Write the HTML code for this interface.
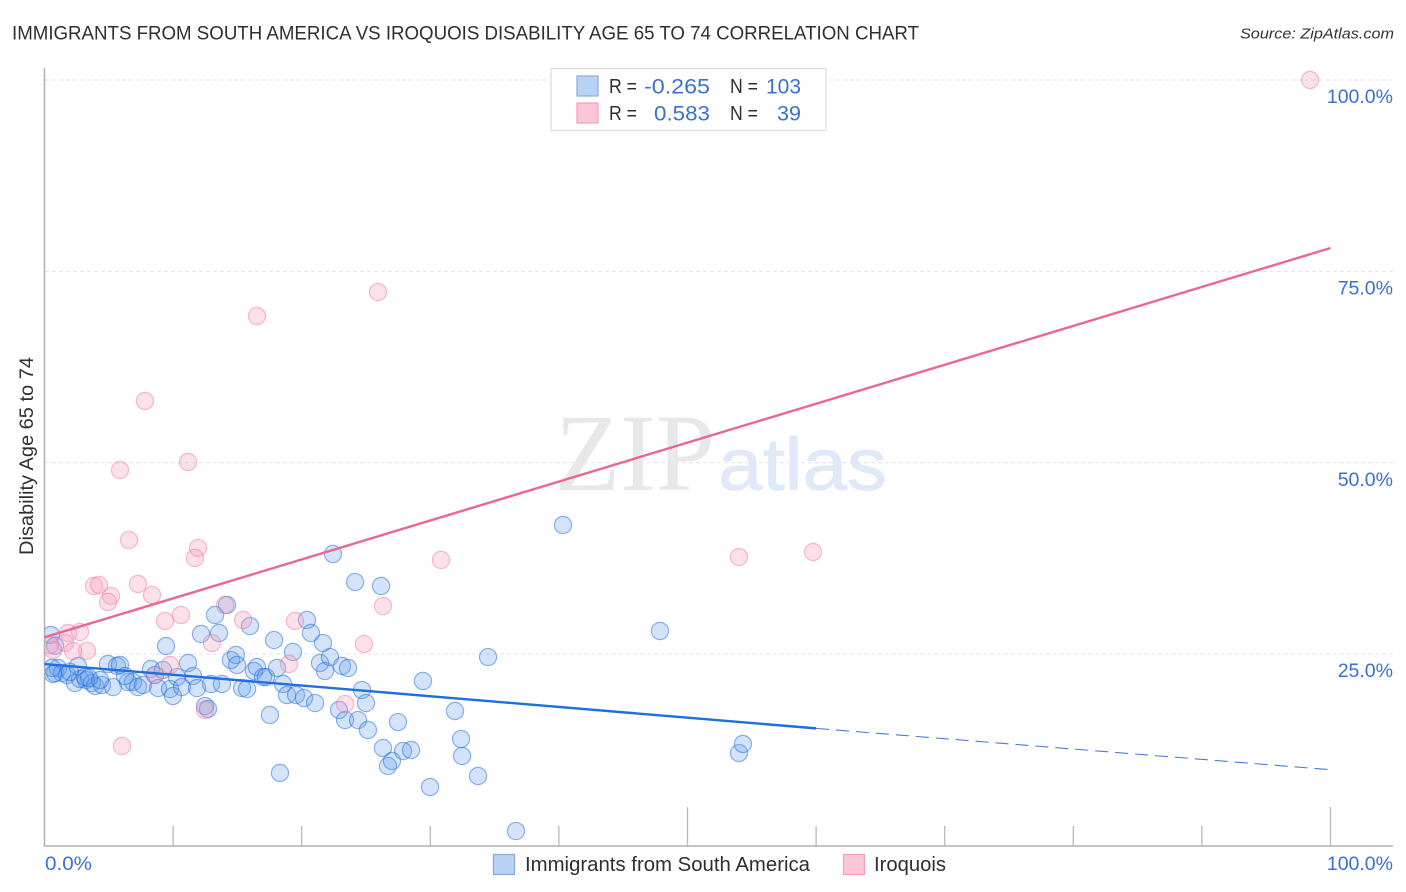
<!DOCTYPE html>
<html lang="en">
<head>
<meta charset="utf-8">
<title>Immigrants from South America vs Iroquois Disability Age 65 to 74 Correlation Chart</title>
<style>
html,body{margin:0;padding:0;background:#fff;}
svg{display:block;font-family:"Liberation Sans",sans-serif;}
</style>
</head>
<body>
<svg id="chart" xmlns="http://www.w3.org/2000/svg" width="1406" height="892" viewBox="0 0 1406 892">
  <rect x="0" y="0" width="1406" height="892" fill="#ffffff"/>
  <text x="12" y="39.5" font-size="19" fill="#2f2f2f" textLength="907" lengthAdjust="spacingAndGlyphs">IMMIGRANTS FROM SOUTH AMERICA VS IROQUOIS DISABILITY AGE 65 TO 74 CORRELATION CHART</text>
  <text x="1394" y="38.5" font-size="15" font-style="italic" fill="#333333" text-anchor="end" textLength="154" lengthAdjust="spacingAndGlyphs">Source: ZipAtlas.com</text>
  <g id="grid"></g>
  <g>
    <text x="555" y="490" font-family="'Liberation Serif',serif" font-size="110" fill="#e8e8e8" textLength="160" lengthAdjust="spacingAndGlyphs">ZIP</text>
    <text x="718" y="490" font-size="74" fill="#dfe9f8" stroke="#dfe9f8" stroke-width="0.8" textLength="169" lengthAdjust="spacingAndGlyphs">atlas</text>
  </g>
  <g id="axes"></g>
  <defs><clipPath id="plot-clip"><rect x="45" y="60" width="1350" height="786"/></clipPath></defs>
  <g id="blue-points" clip-path="url(#plot-clip)"></g>
  <g id="pink-points" clip-path="url(#plot-clip)"></g>
  <g id="trends"></g>
  <g id="tick-labels"></g>
  <text transform="translate(33,456) rotate(-90)" font-size="19" fill="#2f2f2f" text-anchor="middle" textLength="198" lengthAdjust="spacingAndGlyphs">Disability Age 65 to 74</text>

  <g>
    <rect x="551" y="68.5" width="275" height="62" fill="#ffffff" stroke="#e2e2e2" stroke-width="1.5"/>
    <rect x="577" y="76" width="21" height="20" fill="#b9d3f6" stroke="#8ba9dc" stroke-width="1.2"/>
    <rect x="577" y="103" width="21" height="20" fill="#fcc5d8" stroke="#f2a0ba" stroke-width="1.2"/>
    <g font-size="20" fill="#2f2f2f">
      <text x="609" y="93" textLength="28" lengthAdjust="spacingAndGlyphs">R =</text>
      <text x="609" y="120" textLength="28" lengthAdjust="spacingAndGlyphs">R =</text>
      <text x="730" y="93" textLength="28" lengthAdjust="spacingAndGlyphs">N =</text>
      <text x="730" y="120" textLength="28" lengthAdjust="spacingAndGlyphs">N =</text>
    </g>
    <g font-size="21.5" fill="#3a70d2">
      <text x="644" y="93.5" textLength="66" lengthAdjust="spacingAndGlyphs">-0.265</text>
      <text x="654" y="120.5" textLength="56" lengthAdjust="spacingAndGlyphs">0.583</text>
      <text x="766" y="93.5" textLength="35" lengthAdjust="spacingAndGlyphs">103</text>
      <text x="777" y="120.5" textLength="24" lengthAdjust="spacingAndGlyphs">39</text>
    </g>
  </g>

  <g>
    <rect x="493.5" y="854.5" width="21" height="20" fill="#b9d3f6" stroke="#8ba9dc" stroke-width="1.2"/>
    <text x="525" y="871" font-size="20" fill="#2f2f2f" textLength="285" lengthAdjust="spacingAndGlyphs">Immigrants from South America</text>
    <rect x="843.5" y="854.5" width="21" height="20" fill="#fcc5d8" stroke="#f2a0ba" stroke-width="1.2"/>
    <text x="874" y="871" font-size="20" fill="#2f2f2f" textLength="72" lengthAdjust="spacingAndGlyphs">Iroquois</text>
  </g>
</svg>
<script>
const yTickValues = [25, 50, 75, 100];
const yTickLabels = ["25.0%", "50.0%", "75.0%", "100.0%"];
const xTickValues = [10, 20, 30, 40, 50, 60, 70, 80, 90, 100];
const xMajorTicks = [50, 100];
const xEndLabels = ["0.0%", "100.0%"];
const blueX = [0.50,0.82,1.05,1.36,1.75,2.37,2.60,2.76,3.23,3.69,3.93,4.47,4.94,5.33,5.64,5.87,6.49,6.88,7.27,7.66,8.28,8.59,8.83,9.21,9.45,9.76,9.99,10.30,10.69,11.16,11.55,11.86,12.17,12.48,12.71,12.95,13.26,13.57,13.80,14.19,14.50,14.89,14.97,15.36,15.75,15.98,16.29,16.52,16.99,17.22,17.53,17.85,18.08,18.31,18.55,18.86,19.32,19.56,20.18,20.41,20.72,21.04,21.42,21.66,21.81,22.20,22.43,22.90,23.13,23.37,23.60,24.15,24.38,24.69,25.00,25.15,26.17,26.32,26.71,27.02,27.49,27.88,28.50,29.43,29.98,31.92,32.39,32.47,33.71,34.49,36.66,40.32,47.86,54.00,54.31,0.82,0.58,0.66,1.98,3.15,3.46,4.32,6.26];
const blueY = [27.50,22.53,23.19,22.53,22.27,21.23,23.45,21.75,21.62,21.23,20.84,20.97,23.71,20.70,23.45,23.58,21.36,21.36,20.70,20.97,23.06,22.27,20.57,22.93,26.06,20.44,19.53,22.01,20.70,23.84,22.14,20.57,27.63,18.22,17.83,21.10,30.11,27.76,21.10,31.42,24.23,24.89,23.58,20.57,20.44,28.67,22.80,23.32,22.01,22.01,17.05,26.84,23.19,9.47,21.10,19.66,25.28,19.66,19.27,29.46,27.76,18.61,23.84,26.45,22.80,24.62,38.08,17.70,23.45,16.39,23.19,34.42,16.39,20.31,18.61,15.09,33.90,12.74,10.39,11.04,16.13,12.34,12.48,21.49,7.64,17.57,13.91,11.69,9.08,24.62,1.89,41.87,28.02,12.08,13.26,26.10,23.19,22.40,22.67,22.01,21.88,21.62,22.14];
const pinkX = [98.41,25.93,16.52,7.81,5.87,11.16,6.57,11.94,11.70,7.27,8.36,5.17,4.94,3.85,4.24,30.83,26.32,54.00,59.76,14.04,15.44,19.48,9.37,10.61,13.02,24.84,19.01,2.76,1.83,1.59,0.66,3.30,2.22,6.03,12.48,23.37,9.76,8.59,0.43];
const pinkY = [100.0,72.30,69.17,58.07,49.05,50.10,39.91,38.86,37.56,34.16,32.72,32.59,31.81,33.90,34.03,37.30,31.29,37.69,38.34,31.42,29.46,29.33,29.33,30.11,26.45,26.32,23.71,27.89,27.76,26.45,25.54,25.41,25.41,13.0,17.70,18.48,23.58,22.27,26.19];
const blueTrendSolidX = [0, 60];
const blueTrendSolidY = [23.7, 15.3];
const blueTrendDashX = [60, 100];
const blueTrendDashY = [15.3, 9.9];
const pinkTrendX = [0, 100];
const pinkTrendY = [27.2, 78.05];

const NS = "http://www.w3.org/2000/svg";
function xScale(v){ return 44.5 + v * 12.86; }
function yScale(v){ return 845.5 - v * 7.655; }
function make(tag, attrs, parent){
  const el = document.createElementNS(NS, tag);
  for (const k in attrs) el.setAttribute(k, attrs[k]);
  parent.appendChild(el);
  return el;
}
const grid = document.getElementById("grid");
const axes = document.getElementById("axes");
const labels = document.getElementById("tick-labels");

yTickValues.forEach(function(v, i){
  const line = make("line", {x1:45, x2:1393, y1:yScale(v), y2:yScale(v), stroke:"#e2e2e2", "stroke-width":1, "stroke-dasharray":"4 3"}, grid);
  
  
  const t = make("text", {x:1393, y:yScale(v) + 23, "font-size":19.5, fill:"#3a70d2", "text-anchor":"end"}, labels);
  t.textContent = yTickLabels[i];
  
  
});

const yAxis = make("line", {x1:44.5, x2:44.5, y1:68, y2:846.5, stroke:"#b0b0b0", "stroke-width":1.5}, axes);


const xAxis = make("line", {x1:44, x2:1393, y1:846, y2:846, stroke:"#b0b0b0", "stroke-width":1.5}, axes);


xTickValues.forEach(function(v){
  const top = xMajorTicks.indexOf(v) >= 0 ? 807 : 826;
  const tick = make("line", {x1:xScale(v), x2:xScale(v), y1:top, y2:846, stroke:"#b8b8b8", "stroke-width":1.3}, axes);
  
  
});

const xLabelLeft = make("text", {x:45, y:870, "font-size":19.5, fill:"#3a70d2", textLength:47, lengthAdjust:"spacingAndGlyphs"}, labels);
xLabelLeft.textContent = xEndLabels[0];


const xLabelRight = make("text", {x:1393, y:870, "font-size":19.5, fill:"#3a70d2", "text-anchor":"end"}, labels);
xLabelRight.textContent = xEndLabels[1];



const blueGroup = document.getElementById("blue-points");
blueX.forEach(function(v, i){
  const c = make("circle", {cx:xScale(v), cy:yScale(blueY[i]), r:8.6, fill:"rgba(96,158,236,0.28)", stroke:"rgba(38,108,214,0.5)", "stroke-width":1.2}, blueGroup);
  
  
});
const pinkGroup = document.getElementById("pink-points");
pinkX.forEach(function(v, i){
  const c = make("circle", {cx:xScale(v), cy:yScale(pinkY[i]), r:8.6, fill:"rgba(247,160,190,0.32)", stroke:"rgba(232,112,155,0.45)", "stroke-width":1.2}, pinkGroup);
  
  
});

const trends = document.getElementById("trends");
const dashLine = make("line", {x1:xScale(blueTrendDashX[0]), y1:yScale(blueTrendDashY[0]), x2:xScale(blueTrendDashX[1]), y2:yScale(blueTrendDashY[1]), stroke:"#4a7fd0", "stroke-width":1.1, "stroke-dasharray":"13 7"}, trends);


const blueLine = make("line", {x1:xScale(blueTrendSolidX[0]), y1:yScale(blueTrendSolidY[0]), x2:xScale(blueTrendSolidX[1]), y2:yScale(blueTrendSolidY[1]), stroke:"#1f6fdc", "stroke-width":2.4}, trends);


const pinkLine = make("line", {x1:xScale(pinkTrendX[0]), y1:yScale(pinkTrendY[0]), x2:xScale(pinkTrendX[1]), y2:yScale(pinkTrendY[1]), stroke:"#e9688f", "stroke-width":2.4}, trends);


</script>
</body>
</html>
